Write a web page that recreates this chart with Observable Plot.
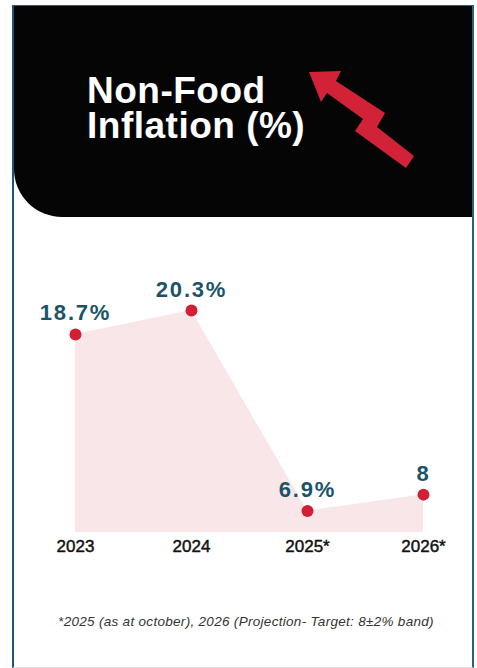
<!DOCTYPE html>
<html>
<head>
<meta charset="utf-8">
<script src="https://cdn.jsdelivr.net/npm/d3@7"></script>
<script src="https://cdn.jsdelivr.net/npm/@observablehq/plot@0.6"></script>
<style>
  body { margin: 0; background: #fff; font-family: "Liberation Sans", Arial, sans-serif; }
  #wrap { position: relative; width: 477px; height: 668px; overflow: hidden; background: #fff; }
  #frame { position: absolute; left: 12px; top: 5px; width: 458px; height: 661px;
           border-left: 2px solid #1e5870; border-right: 2px solid #2a6479;
           border-top: 1px solid #2a6479; border-bottom: 1px solid #e4e4e4; box-sizing: content-box; }
  #panel { position: absolute; left: 14px; top: 6px; width: 458px; height: 211px;
           background: #050505; border-bottom-left-radius: 48px; }
  .title { position: absolute; left: 87px; color: #fff; font-weight: bold;
           font-size: 37px; line-height: 30px; letter-spacing: 0.5px; white-space: nowrap; }
  #t1 { top: 76px; }
  #t2 { top: 111px; }
  #arrow { position: absolute; left: 0; top: 0; }
  #chart { position: absolute; left: 0; top: 230px; }
  #caption { position: absolute; left: 10px; width: 472px; top: 614px; text-align: center;
             font-style: italic; font-size: 13.5px; line-height: 16px; letter-spacing: 0.3px;
             color: #333; white-space: nowrap; }
  #chart g[aria-label="x-axis tick label"] { stroke: #111; stroke-width: 0.45px; }
</style>
</head>
<body>
<div id="wrap">
  <div id="frame"></div>
  <div id="panel"></div>
  <div class="title" id="t1">Non-Food</div>
  <div class="title" id="t2">Inflation (%)</div>
  <svg id="arrow" width="477" height="230">
    <polygon fill="#d12237" points="309,72 341,71 336,81 385,113 377,127 414,156 406,168 355,131 363,119 327,93 321,102"/>
  </svg>
  <div id="chart"></div>
  <div id="caption">*2025 (as at october), 2026 (Projection- Target: 8±2% band)</div>
</div>
<script>
const years = ["2023", "2024", "2025*", "2026*"];
const values = [18.7, 20.3, 6.9, 8];
const labels = ["18.7%", "20.3%", "6.9%", "8"];

const data = years.map((year, i) => ({year, value: values[i], label: labels[i]}));

const chart = Plot.plot({
  width: 477,
  height: 330,
  marginTop: 80,
  marginBottom: 28,
  marginLeft: 75,
  marginRight: 54,
  style: { fontFamily: "Liberation Sans, Arial, sans-serif", background: "transparent", color: "#111", overflow: "visible" },
  x: { type: "point", domain: years, padding: 0, label: null },
  y: { domain: [5.47, 20.3], clamp: true, axis: null },
  marks: [
    Plot.areaY(data, { x: "year", y: "value", fill: "#f9e6e8", curve: "linear" }),
    Plot.dot(data, { x: "year", y: "value", r: 6, fill: "#d21f36", stroke: "none" }),
    Plot.text(data, { x: "year", y: "value", text: "label", dy: -14, lineAnchor: "bottom",
                      fontSize: 22, fontWeight: "bold", fill: "#1b5468",
                      style: "letter-spacing: 1.8px" }),
    Plot.axisX({ tickSize: 0, tickPadding: 7, fontSize: 17, label: null })
  ]
});
chart.querySelectorAll('g[aria-label="text"] text').forEach(t => t.style.letterSpacing = "1.8px");
document.getElementById("chart").appendChild(chart);
</script>
</body>
</html>
